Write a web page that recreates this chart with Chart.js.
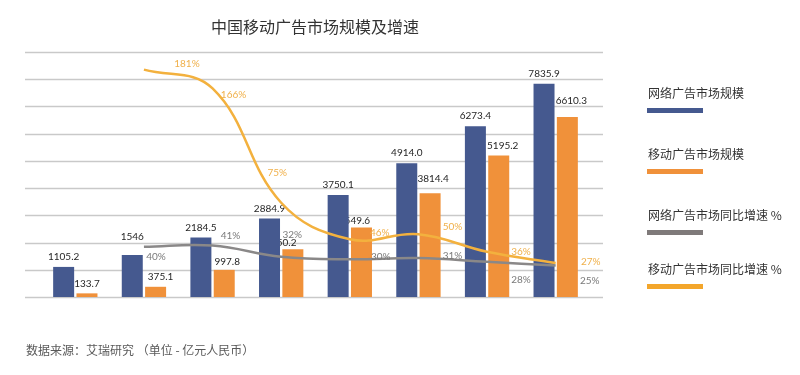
<!DOCTYPE html>
<html>
<head>
<meta charset="utf-8">
<script src="https://cdn.jsdelivr.net/npm/chart.js@4"></script>
<style>
    html, body { margin: 0; padding: 0; background: #ffffff; }
    #wrap { position: relative; width: 800px; height: 375px; overflow: hidden; }
    #adChart { position: absolute; left: 0; top: 0; }
    .cjk { font-family: "Noto Sans CJK SC", sans-serif; position: absolute; white-space: nowrap; }
    #title { left: 0; width: 630px; top: 14px; text-align: center; font-size: 16px; color: #333333; }
    #source { left: 26px; top: 341px; font-size: 12px; color: #595959; }
    .legend-text { left: 648px; font-size: 12px; color: #333333; }
    .legend-line { position: absolute; left: 647px; width: 56px; height: 5px; }
</style>
</head>
<body>
<div id="wrap">
    <canvas id="adChart" width="800" height="375"></canvas>
    <div id="title" class="cjk">中国移动广告市场规模及增速</div>
    <div id="legend"></div>
    <div id="source" class="cjk">数据来源：艾瑞研究 （单位 - 亿元人民币）</div>
</div>
<script>
// categories (x axis is hidden in the original)
const years = ['2012', '2013', '2014', '2015', '2016', '2017', '2018', '2019'];

// market size, 亿元 (kept as printed in the labels)
const webAdScale = ['1105.2', '1546', '2184.5', '2884.9', '3750.1', '4914.0', '6273.4', '7835.9'];
const mobileAdScale = ['133.7', '375.1', '997.8', '1750.2', '2549.6', '3814.4', '5195.2', '6610.3'];

// year-on-year growth, %
const webAdGrowth = [null, 40, 41, 32, 30, 31, 28, 25];
const mobileAdGrowth = [null, 181, 166, 75, 46, 50, 36, 27];

const seriesNames = ['网络广告市场规模', '移动广告市场规模', '网络广告市场同比增速 %', '移动广告市场同比增速 %'];

const BLUE = '#45598f';
const ORANGE = '#f0913a';
const GREY = '#8a8888';
const GOLD = '#f3b13e';

// hand nudges for labels, like the dragged labels in the original
const barNudge = {
    0: [[0, 0], [0, -8], [0, 0], [0, 0], [0, 0], [0, 0], [0, 0], [0, 0]],
    1: [[0, 0], [5, 0], [3, 2], [-12, 3], [-7, 3], [3, -4], [4, 0], [4, -6]]
};
const pctNudge = {
    2: [null, [12, 10], [18, -10], [11, -22], [31, -3], [34, -2], [34, 18], [34, 15]],
    3: [null, [43, -6], [21, 6], [-4, -30], [30, -6], [34, -7], [34, 0], [35, -1]]
};

// legend on the right, text above a thick colour strip
const legendColors = [BLUE, ORANGE, '#7f7a7a', '#f3a62b'];
const legendTextY = [84, 145, 206, 260];
const legendEl = document.getElementById('legend');
seriesNames.forEach((name, i) => {
    const t = document.createElement('div');
    t.className = 'cjk legend-text';
    t.style.top = legendTextY[i] + 'px';
    t.textContent = name;
    legendEl.appendChild(t);
    const l = document.createElement('div');
    l.className = 'legend-line';
    l.style.top = (legendTextY[i] + 24) + 'px';
    l.style.background = legendColors[i];
    legendEl.appendChild(l);
});

const gridAndLabels = {
    id: 'gridAndLabels',
    beforeDatasetsDraw(chart) {
        const ctx = chart.ctx;
        const area = chart.chartArea;
        const y = chart.scales.y;
        ctx.save();
        ctx.strokeStyle = '#c9c9c9';
        ctx.lineWidth = 1.5;
        y.ticks.forEach(t => {
            const py = Math.round(y.getPixelForValue(t.value)) + 0.5;
            ctx.beginPath();
            ctx.moveTo(area.left - 16, py);
            ctx.lineTo(area.right + 13, py);
            ctx.stroke();
        });

        // bar value labels go under the bars, so blue bars hide part of them
        ctx.font = '10px Lato';
        ctx.fillStyle = '#262626';
        ctx.textAlign = 'center';
        ctx.textBaseline = 'bottom';
        [0, 1].forEach(di => {
            const meta = chart.getDatasetMeta(di);
            const data = chart.data.datasets[di].data;
            meta.data.forEach((bar, i) => {
                const n = barNudge[di][i];
                ctx.fillText(data[i], bar.x + n[0], bar.y - 5 + n[1]);
            });
        });
        ctx.restore();
    },
    afterDatasetsDraw(chart) {
        const ctx = chart.ctx;
        ctx.save();
        ctx.font = '10px Lato';
        ctx.textAlign = 'center';
        ctx.textBaseline = 'middle';
        [2, 3].forEach(di => {
            const meta = chart.getDatasetMeta(di);
            const data = chart.data.datasets[di].data;
            ctx.fillStyle = di === 2 ? '#7a7a7a' : '#f0b04a';
            meta.data.forEach((pt, i) => {
                if (data[i] === null) return;
                const n = pctNudge[di][i];
                ctx.fillText(data[i] + '%', pt.x + n[0], pt.y + n[1]);
            });
        });
        ctx.restore();
    }
};

const ctx = document.getElementById('adChart').getContext('2d');
new Chart(ctx, {
    data: {
        labels: years,
        datasets: [
            {
                type: 'bar',
                label: seriesNames[0],
                data: webAdScale,
                backgroundColor: BLUE,
                yAxisID: 'y',
                order: 1,
                categoryPercentage: 0.68,
                barPercentage: 0.9
            },
            {
                type: 'bar',
                label: seriesNames[1],
                data: mobileAdScale,
                backgroundColor: ORANGE,
                yAxisID: 'y',
                order: 1,
                categoryPercentage: 0.68,
                barPercentage: 0.9
            },
            {
                type: 'line',
                label: seriesNames[2],
                data: webAdGrowth,
                borderColor: GREY,
                borderWidth: 2.5,
                pointRadius: 0,
                tension: 0.4,
                fill: false,
                yAxisID: 'y1',
                order: 0
            },
            {
                type: 'line',
                label: seriesNames[3],
                data: mobileAdGrowth,
                borderColor: GOLD,
                borderWidth: 2.5,
                pointRadius: 0,
                tension: 0.4,
                fill: false,
                yAxisID: 'y1',
                order: 0
            }
        ]
    },
    options: {
        responsive: false,
        animation: false,
        devicePixelRatio: 1,
        layout: {
            padding: { left: 41, right: 210, top: 52, bottom: 78 }
        },
        scales: {
            x: { display: false },
            y: {
                display: false,
                min: 0,
                max: 9000,
                ticks: { stepSize: 1000 }
            },
            y1: {
                display: false,
                min: 0,
                max: 195
            }
        },
        plugins: {
            legend: { display: false },
            tooltip: { enabled: false }
        }
    },
    plugins: [gridAndLabels]
});
</script>
</body>
</html>
